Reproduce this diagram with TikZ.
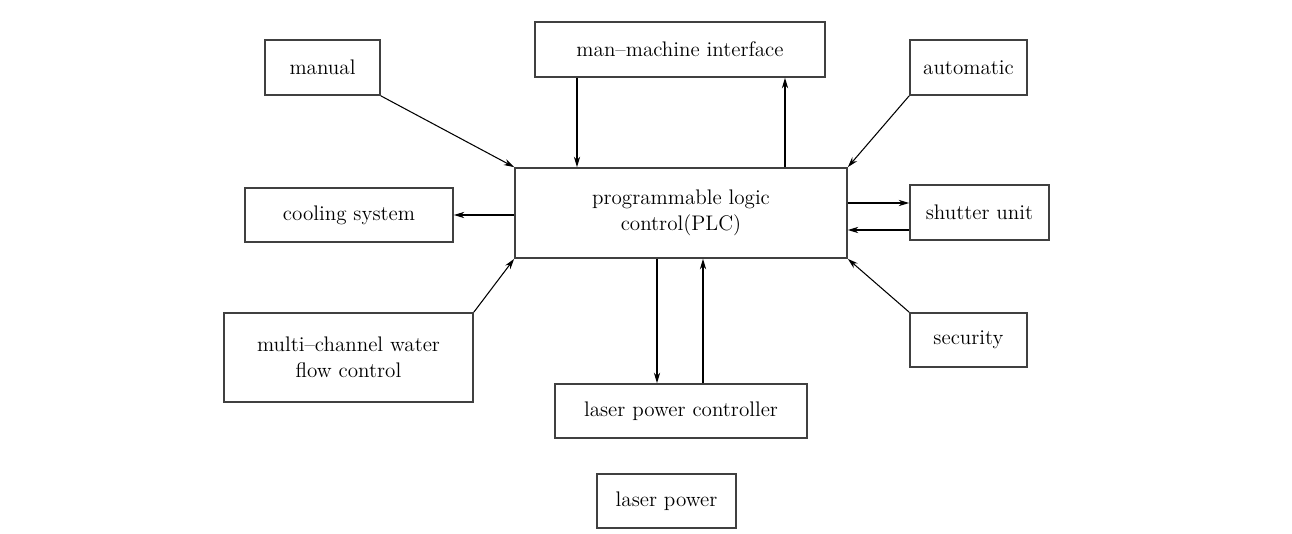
\documentclass[tikz,border=0pt]{standalone}
\usepackage{amsmath}
\usepackage{tikz}
\usetikzlibrary{arrows.meta}

\begin{document}
\begin{tikzpicture}
  [x=0.02cm,y=-0.02cm,
   every node/.style={draw=black!75,line width=1pt,align=center,inner sep=2pt,
     font=\fontsize{12}{15}\selectfont},
   arr/.style={line width=0.6pt,-{Stealth[length=6pt,width=3.6pt]}}]
  \useasboundingbox (0,0) rectangle (1292,534);

  \node[minimum width=2.3cm,minimum height=1.1cm] (man) at (322.5,67.5) {manual};
  \node[minimum width=5.8cm,minimum height=1.1cm] (hmi) at (680,49.5) {man--machine interface};
  \node[minimum width=2.34cm,minimum height=1.1cm] (auto) at (968.5,67.5) {automatic};
  \node[minimum width=6.64cm,minimum height=1.8cm] (plc) at (681,213) {programmable logic\\control(PLC)};
  \node[minimum width=4.16cm,minimum height=1.08cm] (cool) at (349,215) {cooling system};
  \node[minimum width=2.78cm,minimum height=1.1cm] (shut) at (979.5,212.5) {shutter unit};
  \node[minimum width=4.98cm,minimum height=1.78cm] (water) at (348.5,357.5) {multi--channel water\\flow control};
  \node[minimum width=2.34cm,minimum height=1.08cm] (sec) at (968.5,340) {security};
  \node[minimum width=5.04cm,minimum height=1.08cm] (lpc) at (681,411) {laser power controller};
  \node[minimum width=2.78cm,minimum height=1.08cm] (lp) at (666.5,501) {laser power};

  % corner links into the PLC
  \foreach \from/\to in {man.south east/plc.north west,auto.south west/plc.north east,
      water.north east/plc.south west,sec.north west/plc.south east}
    \draw[arr] (\from) -- (\to);

  \draw[arr] (hmi.south -| 577,0) -- (plc.north -| 577,0);
  \draw[arr] (plc.north -| 785,0) -- (hmi.south -| 785,0);
  \draw[arr] (plc.west |- 0,215) -- (cool.east |- 0,215);
  \draw[arr] (plc.east |- 0,203) -- (shut.west |- 0,203);
  \draw[arr] (shut.west |- 0,230) -- (plc.east |- 0,230);
  \draw[arr] (plc.south -| 657,0) -- (lpc.north -| 657,0);
  \draw[arr] (lpc.north -| 703,0) -- (plc.south -| 703,0);
\end{tikzpicture}
\end{document}
